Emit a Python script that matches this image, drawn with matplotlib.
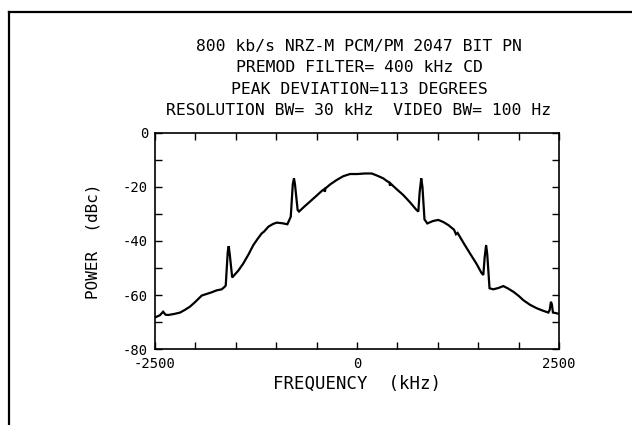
import matplotlib
matplotlib.use("Agg")
import matplotlib.pyplot as plt
from matplotlib.lines import Line2D
import numpy as np

# ─── Data ────────────────────────────────────────────────────────────────────

freq_khz = [
    -2500, -2440, -2400, -2370, -2335, -2260, -2190, -2130, -2067, -2000,
    -1922, -1860, -1798, -1740, -1675, -1640, -1625, -1600, -1588, -1575,
    -1545, -1530, -1470, -1407, -1340, -1283, -1230, -1180, -1150, -1097,
    -1040, -994, -930, -862, -820, -795, -780, -768, -735, -718,
    -650, -582, -500, -430, -405, -398, -390, -330, -251, -170,
    -87, 0, 100, 182, 250, 325, 370, 400, 408, 418,
    490, 573, 660, 730, 759, 775, 795, 810, 835, 870,
    940, 1006, 1070, 1130, 1200, 1225, 1245, 1320, 1398, 1480,
    1540, 1563, 1580, 1598, 1612, 1640, 1687, 1750, 1811, 1870,
    1935, 2000, 2058, 2140, 2224, 2300, 2368, 2385, 2400, 2412,
    2425, 2460, 2500,
]
power_dbc = [
    -68.3, -67.5, -66.2, -67.3, -67.4, -67.0, -66.5, -65.5, -64.3, -62.5,
    -60.2, -59.6, -59.0, -58.3, -57.9, -57.0, -56.5, -44.0, -41.9, -45.0,
    -53.5, -53.0, -51.0, -48.3, -44.8, -41.5, -39.2, -37.2, -36.5, -34.7,
    -33.7, -33.2, -33.4, -33.8, -31.0, -19.0, -16.8, -19.0, -28.5, -29.1,
    -27.2, -25.4, -23.2, -21.3, -20.8, -21.8, -20.5, -19.0, -17.4, -16.0,
    -15.2, -15.2, -15.0, -15.0, -15.8, -16.8, -17.8, -18.3, -19.5, -18.8,
    -20.8, -23.0, -25.8, -28.3, -29.1, -22.0, -16.8, -20.0, -32.0, -33.5,
    -32.6, -32.2, -33.0, -34.1, -35.8, -37.5, -37.0, -40.8, -44.6, -48.5,
    -51.8, -52.6, -46.0, -41.5, -45.0, -57.5, -57.9, -57.4, -56.7, -57.6,
    -58.8, -60.3, -61.9, -63.6, -64.9, -65.8, -66.5, -65.5, -62.5, -63.5,
    -66.5, -66.7, -67.0,
]

title_lines = [
    "800 kb/s NRZ-M PCM/PM 2047 BIT PN",
    "PREMOD FILTER= 400 kHz CD",
    "PEAK DEVIATION=113 DEGREES",
    "RESOLUTION BW= 30 kHz  VIDEO BW= 100 Hz",
]
x_ticks = [-2500, -2000, -1500, -1000, -500, 0, 500, 1000, 1500, 2000, 2500]
x_tick_labels = ["-2500", "", "", "", "", "0", "", "", "", "", "2500"]
y_ticks = [-80, -70, -60, -50, -40, -30, -20, -10, 0]
y_tick_labels = ["-80", "", "-60", "", "-40", "", "-20", "", "0"]

# ─── Plot ────────────────────────────────────────────────────────────────────

plt.rcParams.update({
    "font.family": "DejaVu Sans Mono",
    "axes.linewidth": 1.2,
})

fig = plt.figure(figsize=(6.32, 4.25), dpi=100)
ax = fig.add_axes([0.2453, 0.1788, 0.6392, 0.5083])

ax.plot(freq_khz, power_dbc, color="black", lw=1.6, solid_joinstyle="miter")

ax.set_xlim(-2500, 2500)
ax.set_ylim(-80, 0)
ax.set_xticks(x_ticks)
ax.set_xticklabels(x_tick_labels)
ax.set_yticks(y_ticks)
ax.set_yticklabels(y_tick_labels)
ax.tick_params(direction="in", length=5, width=1.0, top=True, right=True,
               labelsize=10)
ax.tick_params(axis="x", pad=5.5)
ax.tick_params(axis="y", pad=5)

ax.set_xlabel("FREQUENCY  (kHz)", fontsize=12.5, labelpad=3)
ax.set_ylabel("POWER  (dBc)", fontsize=11.5, labelpad=16)

for i, line in enumerate(title_lines):
    fig.text(0.568, 1 - (46 + 21.5 * i) / 425, line, ha="center", va="center",
             fontsize=11.8)

# page frame (top and left edges of the scanned figure)
fig.add_artist(Line2D([8.5 / 632, 1.0], [1 - 12 / 425, 1 - 12 / 425],
                      transform=fig.transFigure, color="black", lw=1.6))
fig.add_artist(Line2D([8.5 / 632, 8.5 / 632], [0.0, 1 - 12 / 425],
                      transform=fig.transFigure, color="black", lw=1.6))

fig.savefig("out.png", dpi=100, facecolor="white")
plt.close(fig)
